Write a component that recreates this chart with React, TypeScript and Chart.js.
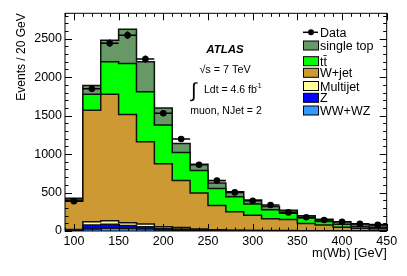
import React, { useEffect, useRef } from "react";
import { Chart, registerables } from "chart.js";

Chart.register(...registerables);

// ---- data ----
const binEdges = [90, 110, 130, 150, 170, 190, 210, 230, 250, 270, 290, 310, 330, 350, 370, 390, 410, 430, 450];
const binCenters = [100, 120, 140, 160, 180, 200, 220, 240, 260, 280, 300, 320, 340, 360, 380, 400, 420, 440];

const wwwz = [3, 26, 35, 32, 26, 13, 8, 5, 3, 2, 2, 1, 1, 1, 1, 0.5, 0.5, 0.5];
const zjets = [5, 52, 52, 39, 30, 19, 17, 10, 6, 4, 3, 2, 2, 1, 1, 1, 0.5, 0.5];
const multijet = [12, 43, 47, 37, 35, 24, 20, 10, 6, 4, 3, 3, 2, 2, 1, 1.5, 1, 1];
const wjets = [370, 1450, 1645, 1407, 1069, 819, 610, 470, 315, 241, 196, 154, 145, 95, 75, 45, 33, 28];
const ttbar = [25, 208, 420, 662, 649, 502, 365, 293, 224, 195, 147, 115, 80, 70, 45, 40, 22, 20];
const singletop = [12, 113, 281, 446, 390, 223, 119, 80, 71, 64, 52, 45, 40, 30, 29, 33, 33, 35];
const dataCounts = [388, 1850, 2440, 2545, 2235, 1530, 1195, 862, 655, 502, 394, 338, 242, 178, 143, 121, 95, 80];

const xTickValues = [100, 150, 200, 250, 300, 350, 400, 450];
const yTickValues = [0, 500, 1000, 1500, 2000, 2500];

const legendLabels = ["Data", "single top", "tt\u0304", "W+jet", "Multijet", "Z", "WW+WZ"];

// ---- styles ----
const FONT = "'Liberation Sans', Arial, Helvetica, sans-serif";
const stackSeries = [wwwz, zjets, multijet, wjets, ttbar, singletop];
const stackColors = ["#3399ff", "#0000ff", "#ffff99", "#cc9933", "#00ff00", "#669966"];
const legendColors = [null, "#669966", "#00ff00", "#cc9933", "#ffff99", "#0000ff", "#3399ff"];
const legendRowY = [32.3, 45.5, 61.2, 72.8, 86, 97.8, 110.5];

function cumulative(level: number): number[] {
  return binCenters.map((_, i) => {
    let s = 0;
    for (let k = 0; k <= level; k++) s += stackSeries[k][i];
    return s;
  });
}

const decorPlugin = {
  id: "decor",
  afterDatasetsDraw(chart: any) {
    const { ctx } = chart;
    const xs = chart.scales.x;
    const ys = chart.scales.y;
    ctx.save();
    ctx.strokeStyle = "#000";
    ctx.lineWidth = 1.6;
    dataCounts.forEach((n, i) => {
      const y = ys.getPixelForValue(n);
      const x0 = xs.getPixelForValue(binEdges[i]);
      const x1 = xs.getPixelForValue(binEdges[i + 1]);
      const xc = xs.getPixelForValue(binCenters[i]);
      const e = Math.sqrt(n);
      ctx.beginPath();
      ctx.moveTo(x0, y);
      ctx.lineTo(x1, y);
      ctx.moveTo(xc, ys.getPixelForValue(n - e));
      ctx.lineTo(xc, ys.getPixelForValue(n + e));
      ctx.stroke();
    });
    ctx.restore();
  },
  afterDraw(chart: any) {
    const { ctx, chartArea: ca } = chart;
    const xs = chart.scales.x;
    const ys = chart.scales.y;
    ctx.save();
    // frame
    ctx.strokeStyle = "#000";
    ctx.lineWidth = 1;
    ctx.strokeRect(ca.left, ca.top, ca.right - ca.left, ca.bottom - ca.top);
    // ticks (inside)
    ctx.beginPath();
    for (let v = 0; v <= 2800; v += 100) {
      const y = Math.round(ys.getPixelForValue(v)) + 0.5;
      const len = v % 500 === 0 ? 7 : 3.5;
      ctx.moveTo(ca.left, y);
      ctx.lineTo(ca.left + len, y);
      ctx.moveTo(ca.right, y);
      ctx.lineTo(ca.right - len, y);
    }
    for (let v = 90; v <= 450; v += 10) {
      const x = Math.round(xs.getPixelForValue(v)) + 0.5;
      const len = v % 50 === 0 ? 7 : 3.5;
      ctx.moveTo(x, ca.bottom);
      ctx.lineTo(x, ca.bottom - len);
      ctx.moveTo(x, ca.top);
      ctx.lineTo(x, ca.top + len);
    }
    ctx.stroke();

    ctx.fillStyle = "#000";
    // axis titles
    ctx.font = `12.8px ${FONT}`;
    ctx.textAlign = "right";
    ctx.textBaseline = "alphabetic";
    ctx.fillText("m(Wb) [GeV]", ca.right, 257);
    ctx.save();
    ctx.translate(25, ca.top);
    ctx.rotate(-Math.PI / 2);
    ctx.font = `12px ${FONT}`;
    ctx.textAlign = "right";
    ctx.fillText("Events / 20 GeV", 0, 0);
    ctx.restore();

    // annotations
    ctx.textAlign = "center";
    ctx.font = `italic bold 11.5px ${FONT}`;
    ctx.fillText("ATLAS", 225, 53);
    ctx.font = `10.8px ${FONT}`;
    ctx.fillText("\u221As = 7 TeV", 225, 73.3);
    ctx.textAlign = "left";
    ctx.font = `20px ${FONT}`;
    ctx.fillText("\u222B", 191, 97);
    ctx.font = `10.5px ${FONT}`;
    ctx.fillText("Ldt = 4.6 fb", 204, 93.3);
    ctx.font = `7px ${FONT}`;
    ctx.fillText("-1", 255.5, 88);
    ctx.font = `10.5px ${FONT}`;
    ctx.textAlign = "center";
    ctx.fillText("muon, NJet = 2", 226, 113.5);

    // legend
    ctx.font = `12.5px ${FONT}`;
    ctx.textAlign = "left";
    legendLabels.forEach((lab, i) => {
      const yc = legendRowY[i];
      const col = legendColors[i];
      if (col === null) {
        ctx.strokeStyle = "#000";
        ctx.lineWidth = 1.5;
        ctx.beginPath();
        ctx.moveTo(303, yc);
        ctx.lineTo(318, yc);
        ctx.stroke();
        ctx.beginPath();
        ctx.arc(311, yc, 3, 0, Math.PI * 2);
        ctx.fill();
      } else {
        ctx.fillStyle = col;
        ctx.fillRect(303.5, yc - 4.5, 15, 9);
        ctx.strokeStyle = "#000";
        ctx.lineWidth = 1;
        ctx.strokeRect(303.5, yc - 4.5, 15, 9);
        ctx.fillStyle = "#000";
      }
      ctx.fillText(lab, 320, yc + 4.5);
    });
    ctx.restore();
  },
};

export default function App() {
  const ref = useRef<HTMLCanvasElement | null>(null);
  useEffect(() => {
    if (!ref.current) return;
    const stackDatasets = stackSeries.map((_, k) => {
      const cum = cumulative(k);
      return {
        type: "line" as const,
        data: binEdges.map((e, i) => ({ x: e, y: cum[Math.min(i, cum.length - 1)] })),
        stepped: "before" as const,
        fill: "origin",
        backgroundColor: stackColors[k],
        borderColor: "#111",
        borderWidth: 1.5,
        pointRadius: 0,
        tension: 0,
      };
    });
    const chart = new Chart(ref.current, {
      type: "line",
      data: {
        datasets: [
          {
            type: "scatter" as const,
            data: binCenters.map((x, i) => ({ x, y: dataCounts[i] })),
            pointRadius: 3.3,
            backgroundColor: "#000",
            borderColor: "#000",
            borderWidth: 0,
          },
          ...stackDatasets,
        ] as any,
      },
      options: {
        responsive: false,
        animation: false,
        devicePixelRatio: 1,
        layout: { padding: { top: 13.3, right: 20.3, left: 0, bottom: 0 } },
        plugins: { legend: { display: false }, tooltip: { enabled: false } },
        scales: {
          x: {
            type: "linear",
            min: 90,
            max: 450,
            grid: { display: false, drawTicks: false },
            border: { display: false },
            ticks: {
              padding: 3,
              maxRotation: 0,
              autoSkip: false,
              color: "#000",
              font: { family: FONT, size: 12.5 },
              callback: (v: any) => String(v),
            },
            afterBuildTicks: (axis: any) => {
              axis.ticks = xTickValues.map((v) => ({ value: v }));
            },
            afterFit: (axis: any) => {
              axis.height = 45;
            },
          },
          y: {
            type: "linear",
            min: 0,
            max: 2830,
            grid: { display: false, drawTicks: false },
            border: { display: false },
            ticks: {
              padding: 3,
              color: "#000",
              font: { family: FONT, size: 12.5 },
              callback: (v: any) => String(v),
            },
            afterBuildTicks: (axis: any) => {
              axis.ticks = yTickValues.map((v) => ({ value: v }));
            },
            afterFit: (axis: any) => {
              axis.width = 65;
            },
          },
        },
      },
      plugins: [decorPlugin],
    });
    return () => chart.destroy();
  }, []);
  return (
    <div style={{ position: "fixed", left: 0, top: 0, width: 407, height: 276, background: "#fff" }}>
      <canvas ref={ref} width={407} height={276} style={{ display: "block" }} />
    </div>
  );
}
